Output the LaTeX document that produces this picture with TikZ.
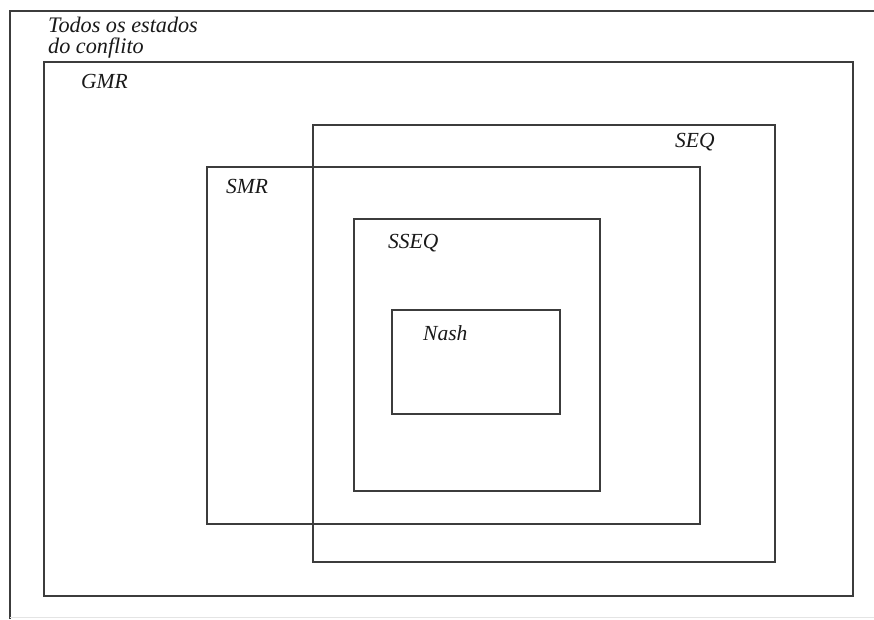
\documentclass[tikz,border=0pt]{standalone}
\usepackage{fontspec}
\setmainfont{Liberation Serif}
\definecolor{linegray}{HTML}{3C3C3C}
\definecolor{faintgray}{HTML}{E4E4E4}
\begin{document}
\begin{tikzpicture}[x=1pt,y=-1pt,
  box/.style={draw=linegray,line width=2pt},
  lbl/.style={font=\fontsize{21.5}{23}\selectfont\itshape, anchor=base west, inner sep=0pt, text=black!90},
  biglbl/.style={lbl, font=\fontsize{22.2}{24}\selectfont\itshape}]
\useasboundingbox (0,0) rectangle (874,619);
\fill[white] (0,0) rectangle (874,619);
% outer frame (partly cut)
\draw[box] (10,619) -- (10,11) -- (874,11);
\draw[faintgray,line width=1pt] (10,617.5) -- (874,617.5);
% sets
\draw[box] (44,62) rectangle (853,596);
\draw[box] (313,125) rectangle (775,562);
\draw[box] (207,167) rectangle (700,524);
\draw[box] (354,219) rectangle (600,491);
\draw[box] (392,310) rectangle (560,414);
% labels
\node[biglbl] (all1) at (48,32) {Todos os estados};
\node[biglbl] (all2) at (48,53.5) {do conflito};
\node[lbl] (gmr) at (81,88) {GMR};
\node[lbl] (seq) at (675,147) {SEQ};
\node[lbl] (smr) at (226,193) {SMR};
\node[lbl] (sseq) at (388,248) {SSEQ};
\node[lbl] (nash) at (423,340) {Nash};
\end{tikzpicture}
\end{document}
